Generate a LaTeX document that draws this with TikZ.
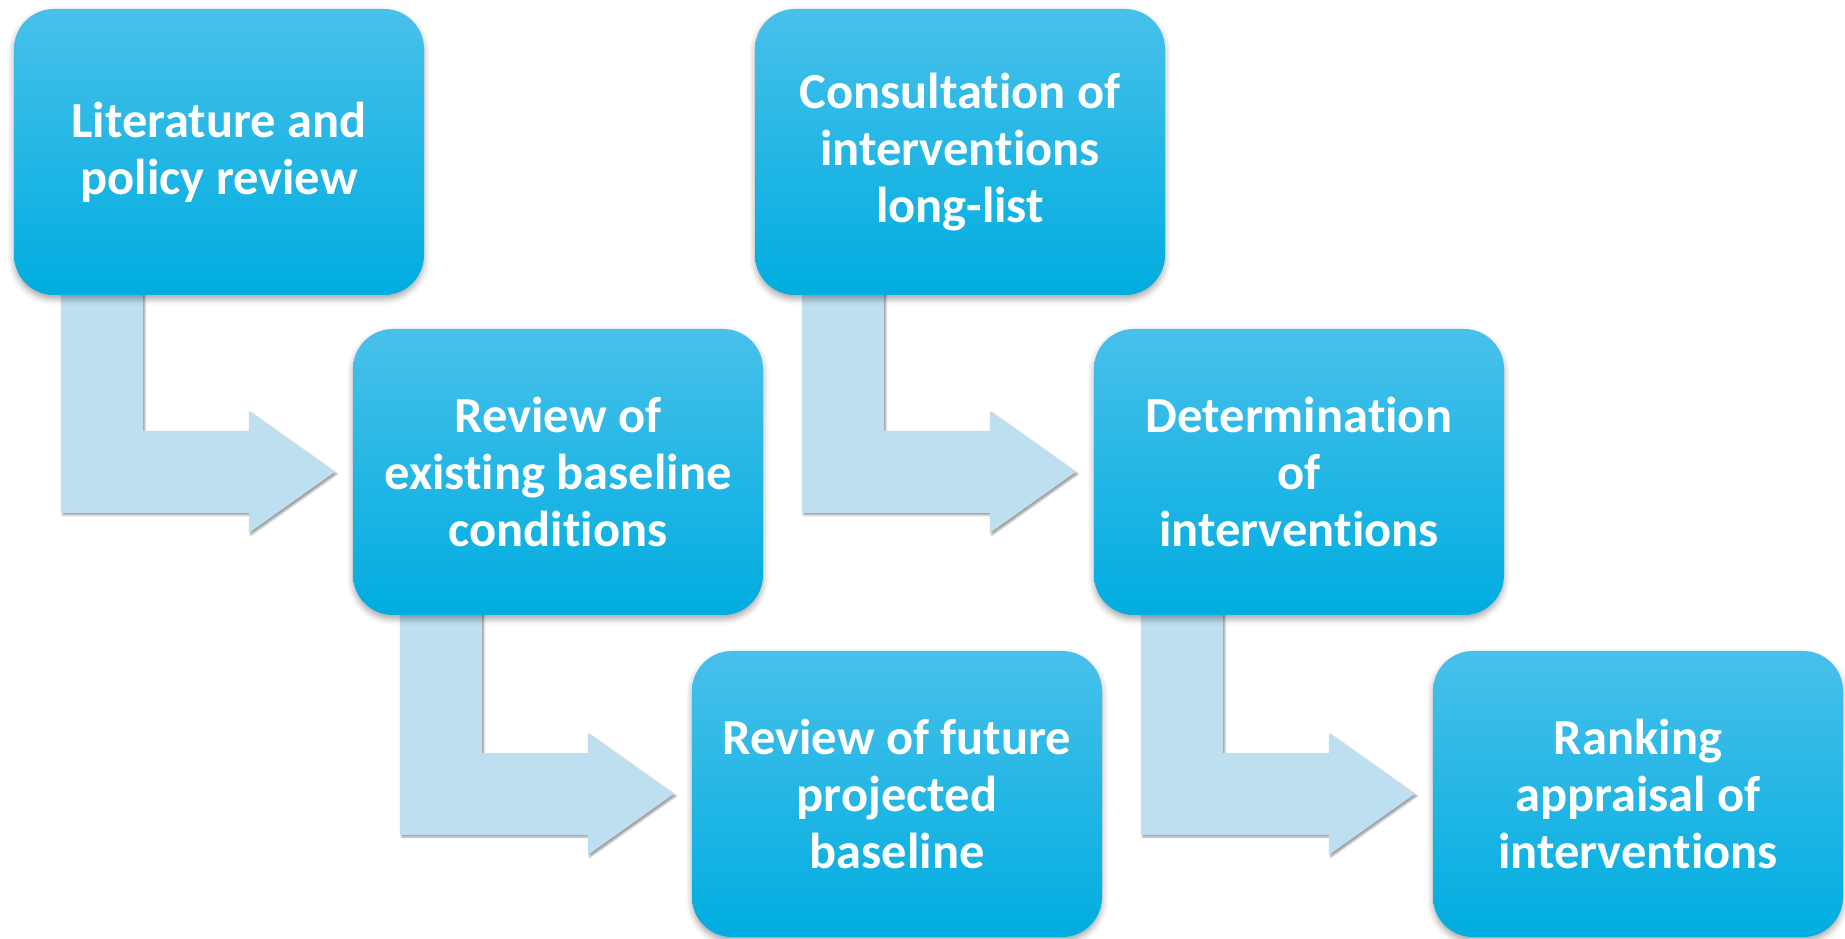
\documentclass[tikz,border=0pt]{standalone}
\usepackage{fontspec}
\setmainfont[Ligatures=NoCommon]{Carlito}
\usetikzlibrary{calc,shadows.blur}
\definecolor{boxtop}{HTML}{48C0EB}
\definecolor{boxmid}{HTML}{00BAEE}
\definecolor{boxbot}{HTML}{00ADDF}
\definecolor{arrowfill}{HTML}{BDDFF0}
\tikzset{
  stepbox/.style={rectangle, rounded corners=40pt,
    minimum width=410pt, minimum height=286pt,
    top color=boxtop, middle color=boxmid, bottom color=boxbot,
    text=white, align=center, inner sep=0pt,
    font=\bfseries\fontsize{50.5pt}{57pt}\selectfont,
    blur shadow={shadow xshift=0pt, shadow yshift=-4pt,
      shadow blur radius=6pt, shadow opacity=35}},
  bentarrow/.style={fill=arrowfill, draw=none,
    blur shadow={shadow xshift=2pt, shadow yshift=-2pt,
      shadow blur radius=2pt, shadow opacity=40}}
}
% bent arrow from the bottom of box #1 to the left side of box #2
\newcommand\bendto[2]{%
  \path[bentarrow] let \p1=(#1.south west), \p2=(#2.west) in
    (\x1+47pt,\y1+5pt) -- (\x1+129pt,\y1+5pt)
    -- (\x1+129pt,\y2+41pt) -- (\x2-104pt,\y2+41pt)
    -- (\x2-104pt,\y2+61pt) -- (\x2-18pt,\y2)
    -- (\x2-104pt,\y2-61pt) -- (\x2-104pt,\y2-41pt)
    -- (\x1+47pt,\y2-41pt) -- cycle;}
\begin{document}
\begin{tikzpicture}[x=1pt,y=1pt]
\useasboundingbox (0,0) rectangle (1845,938);
% placeholder nodes so that the arrows can be drawn under the boxes
\path (219,786) node[minimum width=410pt,minimum height=286pt] (b1) {}
      (558,466) node[minimum width=410pt,minimum height=286pt] (b2) {}
      (897,144) node[minimum width=410pt,minimum height=286pt] (b3) {}
      (960,786) node[minimum width=410pt,minimum height=286pt] (b4) {}
      (1299,466) node[minimum width=410pt,minimum height=286pt] (b5) {}
      (1638,144) node[minimum width=410pt,minimum height=286pt] (b6) {};
\bendto{b1}{b2}
\bendto{b2}{b3}
\bendto{b4}{b5}
\bendto{b5}{b6}
\node[stepbox] (s1) at (b1) {Literature and\\policy review};
\node[stepbox] (s2) at (b2) {Review of\\existing baseline\\conditions};
\node[stepbox] (s3) at (b3) {Review of future\\projected\\baseline};
\node[stepbox] (s4) at (b4) {Consultation of\\interventions\\long-list};
\node[stepbox] (s5) at (b5) {Determination\\of\\interventions};
\node[stepbox] (s6) at (b6) {Ranking\\appraisal of\\interventions};
\end{tikzpicture}
\end{document}
